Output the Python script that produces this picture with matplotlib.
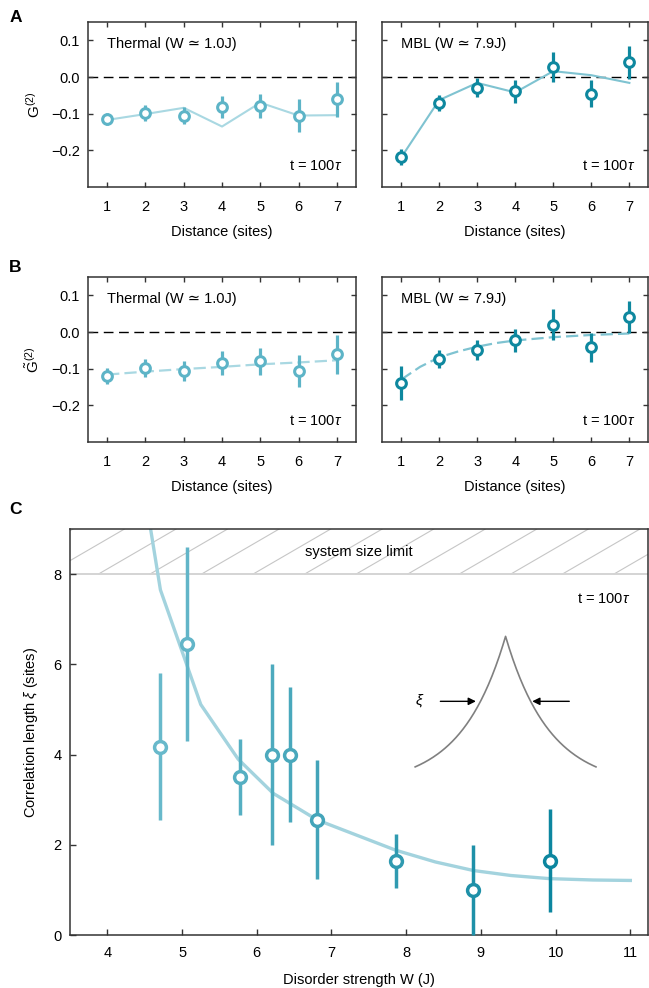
import numpy as np
import matplotlib.pyplot as plt
from matplotlib.colors import LinearSegmentedColormap

plt.rcParams['font.family'] = ['Liberation Sans', 'DejaVu Sans']
plt.rcParams['mathtext.fontset'] = 'custom'
plt.rcParams['mathtext.rm'] = 'Liberation Sans'
plt.rcParams['mathtext.it'] = 'Liberation Sans:italic'
plt.rcParams['font.size'] = 10.5

FS = 10.5

# ---- data ----
sites = [1, 2, 3, 4, 5, 6, 7]

# A: G2, thermal
a_th_y = [-0.115, -0.099, -0.106, -0.083, -0.079, -0.105, -0.061]
a_th_err = [0.017, 0.022, 0.023, 0.030, 0.034, 0.046, 0.048]
a_th_model = [-0.117, -0.101, -0.084, -0.135, -0.070, -0.105, -0.104]
# A: G2, MBL
a_mbl_y = [-0.218, -0.072, -0.029, -0.039, 0.028, -0.045, 0.040]
a_mbl_err = [0.021, 0.022, 0.025, 0.031, 0.041, 0.038, 0.045]
a_mbl_model = [-0.220, -0.063, -0.016, -0.042, 0.016, 0.005, -0.016]

# B: tilde G2, thermal
b_th_y = [-0.119, -0.098, -0.107, -0.085, -0.080, -0.106, -0.061]
b_th_err = [0.022, 0.025, 0.027, 0.032, 0.037, 0.044, 0.053]
b_th_fit_x = [1, 2, 3, 4, 5, 6, 7]
b_th_fit_y = [-0.116, -0.108, -0.101, -0.095, -0.088, -0.083, -0.077]
# B: tilde G2, MBL
b_mbl_y = [-0.139, -0.074, -0.049, -0.023, 0.020, -0.042, 0.041]
b_mbl_err = [0.047, 0.025, 0.028, 0.032, 0.042, 0.040, 0.044]
b_mbl_fit_x = [1, 1.5, 2, 2.5, 3, 3.5, 4, 5, 6, 7]
b_mbl_fit_y = [-0.130, -0.095, -0.069, -0.053, -0.040, -0.030, -0.023, -0.014, -0.008, -0.004]

# C: correlation length vs disorder
c_w = [4.71, 5.07, 5.77, 6.21, 6.45, 6.81, 7.86, 8.89, 9.92]
c_xi = [4.16, 6.45, 3.50, 4.00, 4.00, 2.55, 1.65, 1.00, 1.65]
c_lo = [2.55, 4.30, 2.65, 2.00, 2.50, 1.25, 1.05, 0.00, 0.50]
c_hi = [5.80, 8.60, 4.35, 6.00, 5.50, 3.87, 2.25, 2.00, 2.80]
c_fit_w = [4.52, 4.71, 5.25, 5.75, 6.22, 6.81, 7.39, 7.86, 8.39, 8.90, 9.40, 9.92, 10.50, 11.00]
c_fit_xi = [9.6, 7.65, 5.11, 3.90, 3.14, 2.55, 2.18, 1.88, 1.62, 1.43, 1.32, 1.25, 1.22, 1.21]

# ---- style ----
th_col = '#5db4c7'
mbl_col = '#0e889f'
th_line = '#a9d8e2'
mbl_line = '#7fc3d1'
spine_col = '#333333'

fig = plt.figure(figsize=(6.49, 9.88), dpi=100)


def style_small(ax, ylabels=True):
    ax.set_xlim(0.5, 7.5)
    ax.set_ylim(-0.3, 0.15)
    ax.set_xticks(sites)
    ax.set_yticks([-0.2, -0.1, 0.0, 0.1])
    ax.set_yticklabels(['\u22120.2', '\u22120.1', '0.0', '0.1'])
    ax.tick_params(direction='in', length=3.5, width=1, top=True, right=True,
                   color=spine_col, labelsize=FS)
    ax.tick_params(axis='x', pad=9)
    ax.tick_params(axis='y', pad=6)
    if not ylabels:
        ax.set_yticklabels([])
    for s in ax.spines.values():
        s.set_color(spine_col)
        s.set_linewidth(1.1)
    ax.axhline(0, color='black', lw=1, dashes=(7, 4), zorder=1)
    ax.set_xlabel('Distance (sites)', fontsize=FS)
    ax.xaxis.set_label_coords(0.5, -0.23)


def points(ax, y, err, col):
    ax.errorbar(sites, y, yerr=err, fmt='o', color=col, ms=7, mew=2.2,
                mfc='white', mec=col, elinewidth=2.3, capsize=0, zorder=3)


axA1 = fig.add_axes([0.1356, 0.8107, 0.413, 0.167])
axA2 = fig.add_axes([0.5886, 0.8107, 0.4105, 0.167])
axB1 = fig.add_axes([0.1356, 0.5526, 0.413, 0.167])
axB2 = fig.add_axes([0.5886, 0.5526, 0.4105, 0.167])

for ax in [axA1, axB1]:
    style_small(ax)
    ax.text(0.071, 0.867, 'Thermal (W \u2243 1.0J)', transform=ax.transAxes, va='center', fontsize=FS)
for ax in [axA2, axB2]:
    style_small(ax, ylabels=False)
    ax.text(0.07, 0.867, 'MBL (W \u2243 7.9J)', transform=ax.transAxes, va='center', fontsize=FS)
for ax in [axA1, axA2, axB1, axB2]:
    ax.text(0.95, 0.127, 't = 100$\\tau$', transform=ax.transAxes, ha='right', va='center', fontsize=FS)

axA1.plot(sites, a_th_model, color=th_line, lw=1.5, zorder=2)
points(axA1, a_th_y, a_th_err, th_col)
axA2.plot(sites, a_mbl_model, color=mbl_line, lw=1.5, zorder=2)
points(axA2, a_mbl_y, a_mbl_err, mbl_col)

axB1.plot(b_th_fit_x, b_th_fit_y, color=th_line, lw=1.6, dashes=(5.5, 2.3), zorder=2)
points(axB1, b_th_y, b_th_err, th_col)
axB2.plot(b_mbl_fit_x, b_mbl_fit_y, color=mbl_line, lw=1.6, dashes=(5.5, 2.3), zorder=2)
points(axB2, b_mbl_y, b_mbl_err, mbl_col)

axA1.set_ylabel('G$^{(2)}$', fontsize=11)
axA1.yaxis.set_label_coords(-0.17, 0.5)
axB1.set_ylabel('$\\tilde{\\mathrm{G}}^{(2)}$', fontsize=11)
axB1.yaxis.set_label_coords(-0.17, 0.5)

# ---- panel C ----
axC = fig.add_axes([0.1079, 0.0536, 0.8898, 0.411])
axC.set_xlim(3.5, 11.23)
axC.set_ylim(0, 9)
axC.set_xticks([4, 5, 6, 7, 8, 9, 10, 11])
axC.set_yticks([0, 2, 4, 6, 8])
axC.tick_params(direction='in', length=4, width=1, color=spine_col, labelsize=FS)
axC.tick_params(axis='x', pad=8)
axC.tick_params(axis='y', pad=6)
for s in axC.spines.values():
    s.set_color(spine_col)
    s.set_linewidth(1.1)
axC.set_xlabel('Disorder strength W (J)', fontsize=FS)
axC.xaxis.set_label_coords(0.5, -0.094)
axC.set_ylabel('Correlation length $\\xi$ (sites)', fontsize=FS)
axC.yaxis.set_label_coords(-0.052, 0.5)

# system size limit band
axC.axhline(8, color='#d4d4d4', lw=1.4, zorder=1)
w0 = 3.88 - 0.69 * 2
while w0 < 11.3:
    axC.plot([w0, w0 + 1.04], [8, 9], color='#c6c6c6', lw=0.8, zorder=0)
    w0 += 0.69
axC.text(7.37, 8.5, 'system size limit', ha='center', va='center', fontsize=FS)
axC.text(11.0, 7.44, 't = 100$\\tau$', ha='right', va='center', fontsize=FS)

axC.plot(c_fit_w, c_fit_xi, color='#a3d3de', lw=2.4, zorder=2)

cmap = LinearSegmentedColormap.from_list('teal', ['#68b9cb', '#0c869f'])
for w, xi, lo, hi in zip(c_w, c_xi, c_lo, c_hi):
    col = cmap((w - 4.7) / (9.92 - 4.7))
    axC.errorbar([w], [xi], yerr=[[xi - lo], [hi - xi]], fmt='o', color=col,
                 ms=8.5, mew=2.5, mfc='white', mec=col, elinewidth=2.5,
                 capsize=0, zorder=3, clip_on=False)

# schematic of exponential decay
xs = np.linspace(-1.21, 1.21, 201)
axC.plot(9.33 + xs, 3.3 + 3.32 * np.exp(-np.abs(xs) / 0.59), color='#808080', lw=1.2)
axC.annotate('', xy=(8.97, 5.18), xytext=(8.42, 5.18),
             arrowprops=dict(arrowstyle='-|>', color='black', lw=1, mutation_scale=11))
axC.annotate('', xy=(9.65, 5.18), xytext=(10.22, 5.18),
             arrowprops=dict(arrowstyle='-|>', color='black', lw=1, mutation_scale=11))
axC.text(8.18, 5.2, '$\\xi$', ha='center', va='center', fontsize=11)

# panel letters
fig.text(0.014, 0.982, 'A', fontsize=12.5, fontweight='bold', va='center')
fig.text(0.014, 0.729, 'B', fontsize=12.5, fontweight='bold', va='center')
fig.text(0.014, 0.484, 'C', fontsize=12.5, fontweight='bold', va='center')

fig.savefig('out.png', dpi=100)
